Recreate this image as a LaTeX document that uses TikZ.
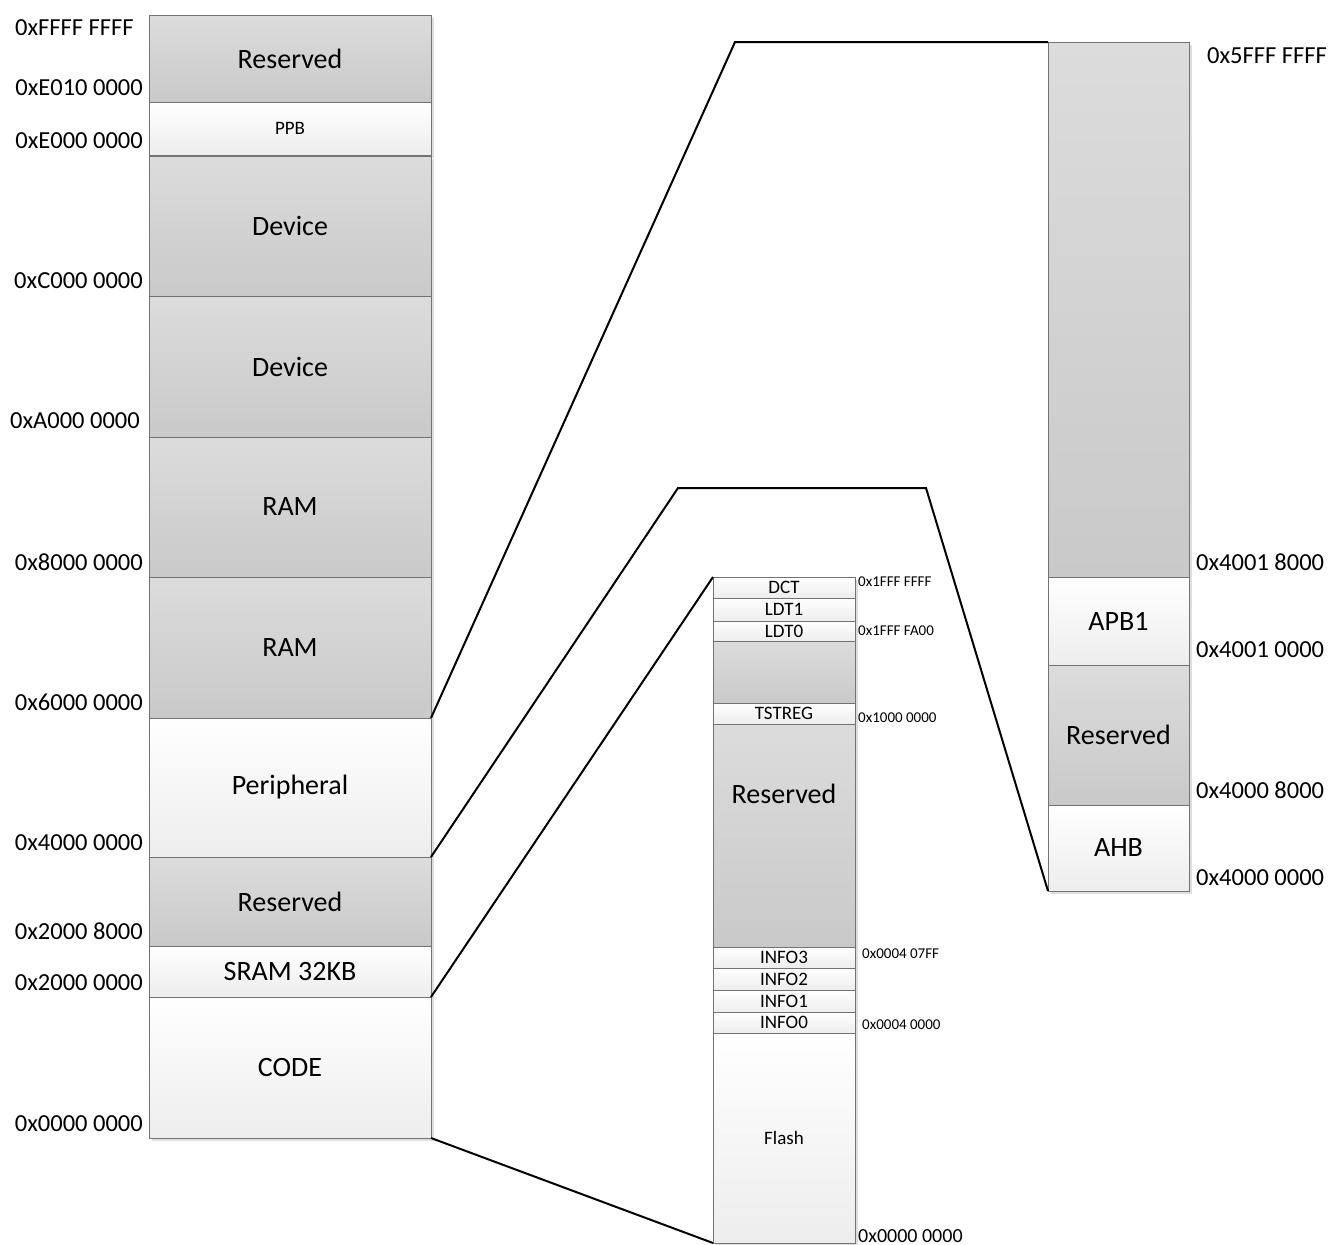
\documentclass[tikz,border=0pt]{standalone}
\usepackage{fontspec}
\setmainfont{Carlito}
\usetikzlibrary{shadows}
\definecolor{gtop}{HTML}{DCDCDC}
\definecolor{gbot}{HTML}{C9C9C9}
\definecolor{wbot}{HTML}{EDEDED}
\definecolor{edgec}{HTML}{737373}
\begin{document}
\begin{tikzpicture}[x=1pt,y=-1pt,
  mem/.style 2 args={anchor=north west, inner sep=0pt, outer sep=0pt, draw=edgec, line width=0.9pt,
     minimum width=#1pt, minimum height=#2pt,
     drop shadow={shadow xshift=2.5pt,shadow yshift=-2.5pt,fill=black,opacity=0.13}},
  gbox/.style={top color=gtop, bottom color=gbot},
  wbox/.style={top color=white, bottom color=wbot},
  big/.style={font=\fontsize{28}{30}\selectfont},
  small/.style={font=\fontsize{19}{20}\selectfont},
  addr/.style={font=\fontsize{24.5}{26}\selectfont, inner sep=0pt},
  saddr/.style={font=\fontsize{15}{16}\selectfont, inner sep=0pt, anchor=west},
  link/.style={draw=black, line width=2pt, line join=miter}]
\useasboundingbox (0,0) rectangle (1328,1245);

% ---------------- left column ----------------
\node[mem={282}{87}, gbox, big]  (lres1) at (149,15)  {Reserved};
\node[mem={282}{53}, wbox, small](ppb)   at (149,102) {PPB};
\node[mem={282}{140}, gbox, big] (dev1)  at (149,156) {Device};
\node[mem={282}{141}, gbox, big] (dev2)  at (149,296) {Device};
\node[mem={282}{140}, gbox, big] (ram1)  at (149,437) {RAM};
\node[mem={282}{141}, gbox, big] (ram2)  at (149,577) {RAM};
\node[mem={282}{139}, wbox, big] (peri)  at (149,718) {Peripheral};
\node[mem={282}{89}, gbox, big]  (lres2) at (149,857) {Reserved};
\node[mem={282}{51}, wbox, big]  (sram)  at (149,946) {SRAM 32KB};
\node[mem={282}{141}, wbox, big] (code)  at (149,997) {CODE};

\node[addr, anchor=west] (aFFFF) at (15,28)   {0xFFFF FFFF};
\node[addr, anchor=east] (aE010) at (143,88)  {0xE010 0000};
\node[addr, anchor=east] (aE000) at (143,141) {0xE000 0000};
\node[addr, anchor=east] (aC000) at (143,281) {0xC000 0000};
\node[addr, anchor=east] (aA000) at (140,421) {0xA000 0000};
\node[addr, anchor=east] (a8000) at (143,562) {0x8000 0000};
\node[addr, anchor=east] (a6000) at (143,702) {0x6000 0000};
\node[addr, anchor=east] (a4000) at (143,843) {0x4000 0000};
\node[addr, anchor=east] (a2008) at (143,931) {0x2000 8000};
\node[addr, anchor=east] (a2000) at (143,983) {0x2000 0000};
\node[addr, anchor=east] (a0000) at (143,1124){0x0000 0000};

% ---------------- middle column ----------------
\node[mem={142}{21}, wbox, small] (dct)   at (713,577)  {DCT};
\node[mem={142}{23}, wbox, small] (ldt1)  at (713,598)  {LDT1};
\node[mem={142}{20}, wbox, small] (ldt0)  at (713,621)  {LDT0};
\node[mem={142}{62}, gbox]        (mgray) at (713,641)  {};
\node[mem={142}{21}, wbox, small] (tst)   at (713,703)  {TSTREG};
\node[mem={142}{223}, gbox]       (mres)  at (713,724)  {};
\node[big] (mreslbl) at (784,794) {Reserved};
\node[mem={142}{21}, wbox, small] (info3) at (713,947)  {INFO3};
\node[mem={142}{22}, wbox, small] (info2) at (713,968)  {INFO2};
\node[mem={142}{22}, wbox, small] (info1) at (713,990)  {INFO1};
\node[mem={142}{21}, wbox, small] (info0) at (713,1012) {INFO0};
\node[mem={142}{210}, wbox, small](flash) at (713,1033) {Flash};

\node[saddr] (m1) at (858,582)  {0x1FFF FFFF};
\node[saddr] (m2) at (858,631)  {0x1FFF FA00};
\node[saddr] (m3) at (858,718)  {0x1000 0000};
\node[saddr] (m4) at (862,954)  {0x0004 07FF};
\node[saddr] (m5) at (862,1025) {0x0004 0000};
\node[saddr, font=\fontsize{20}{22}\selectfont] (m6) at (858,1236) {0x0000 0000};

% ---------------- right column ----------------
\node[mem={141}{535}, gbox]      (rgray) at (1048,42)  {};
\node[mem={141}{88}, wbox, big]  (apb1)  at (1048,577) {APB1};
\node[mem={141}{140}, gbox, big] (rres)  at (1048,665) {Reserved};
\node[mem={141}{86}, wbox, big]  (ahb)   at (1048,805) {AHB};

\node[addr, anchor=west] (r1) at (1207,56)  {0x5FFF FFFF};
\node[addr, anchor=west] (r2) at (1196,562) {0x4001 8000};
\node[addr, anchor=west] (r3) at (1196,650) {0x4001 0000};
\node[addr, anchor=west] (r4) at (1196,790) {0x4000 8000};
\node[addr, anchor=west] (r5) at (1196,878) {0x4000 0000};

% ---------------- connectors ----------------
\coordinate (k1) at (735,42);
\coordinate (k2) at (926,488);
\coordinate (k3) at (678,488);
\draw[link] (ram2.south east) -- (k1) -- (rgray.north west);
\draw[link] (peri.south east) -- (k3) -- (k2) -- (ahb.south west);
\draw[link] (sram.south east) -- (dct.north west);
\draw[link] (code.south east) -- (flash.south west);
\end{tikzpicture}
\end{document}
